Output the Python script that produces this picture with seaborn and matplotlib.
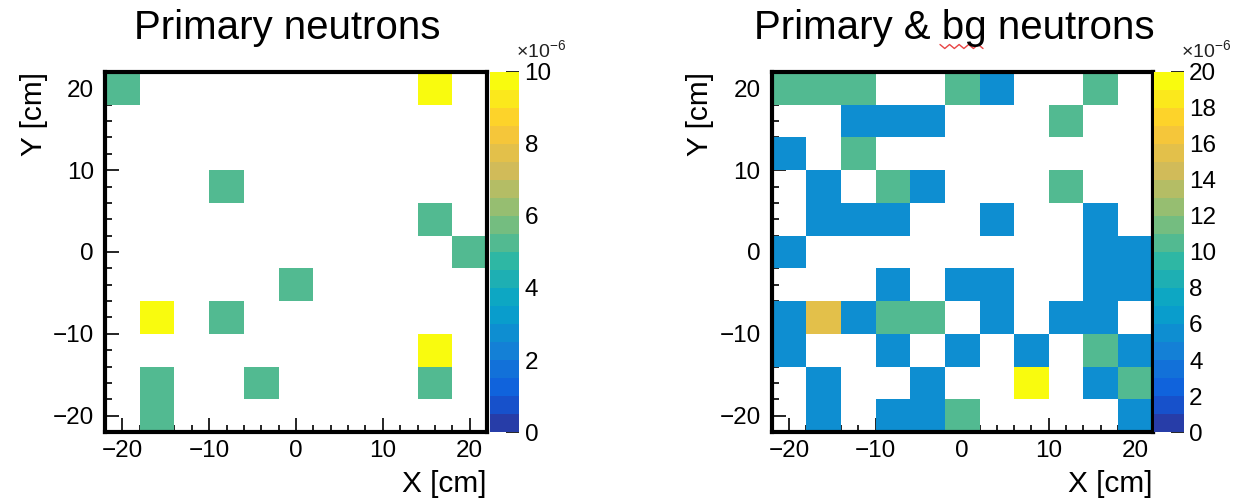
import numpy as np
import pandas as pd
import seaborn as sns
import matplotlib.pyplot as plt
from matplotlib.colors import LinearSegmentedColormap, ListedColormap
from matplotlib.ticker import MultipleLocator
from matplotlib.lines import Line2D

# 11x11 bins, 4 cm wide, in X and Y
bin_edges = [-22, -18, -14, -10, -6, -2, 2, 6, 10, 14, 18, 22]

# bin contents in units of 1e-6, rows go from top (Y=+20) to bottom (Y=-20)
primary = [
    [5, 0, 0, 0, 0, 0, 0, 0, 0, 10, 0],
    [0, 0, 0, 0, 0, 0, 0, 0, 0, 0, 0],
    [0, 0, 0, 0, 0, 0, 0, 0, 0, 0, 0],
    [0, 0, 0, 5, 0, 0, 0, 0, 0, 0, 0],
    [0, 0, 0, 0, 0, 0, 0, 0, 0, 5, 0],
    [0, 0, 0, 0, 0, 0, 0, 0, 0, 0, 5],
    [0, 0, 0, 0, 0, 5, 0, 0, 0, 0, 0],
    [0, 10, 0, 5, 0, 0, 0, 0, 0, 0, 0],
    [0, 0, 0, 0, 0, 0, 0, 0, 0, 10, 0],
    [0, 5, 0, 0, 5, 0, 0, 0, 0, 5, 0],
    [0, 5, 0, 0, 0, 0, 0, 0, 0, 0, 0],
]

primary_bg = [
    [10, 10, 10, 0, 0, 10, 5, 0, 0, 10, 0],
    [0, 0, 5, 5, 5, 0, 0, 0, 10, 0, 0],
    [5, 0, 10, 0, 0, 0, 0, 0, 0, 0, 0],
    [0, 5, 0, 10, 5, 0, 0, 0, 10, 0, 0],
    [0, 5, 5, 5, 0, 0, 5, 0, 0, 5, 0],
    [5, 0, 0, 0, 0, 0, 0, 0, 0, 5, 5],
    [0, 0, 0, 5, 0, 5, 5, 0, 0, 5, 5],
    [5, 15, 5, 10, 10, 0, 5, 0, 5, 5, 0],
    [5, 0, 0, 5, 0, 5, 0, 5, 0, 10, 5],
    [0, 5, 0, 0, 5, 0, 0, 20, 0, 5, 10],
    [0, 5, 0, 5, 5, 10, 0, 0, 0, 0, 5],
]

titles = ["Primary neutrons", "Primary & bg neutrons"]
z_max = [10, 20]
z_ticks = [[0, 2, 4, 6, 8, 10], [0, 2, 4, 6, 8, 10, 12, 14, 16, 18, 20]]

# ROOT kBird palette, 255 colours, cut into 20 contour levels
bird_stops = [0.0, 0.125, 0.25, 0.375, 0.5, 0.625, 0.75, 0.875, 1.0]
bird_r = [0.2082, 0.0592, 0.0780, 0.0232, 0.1802, 0.5301, 0.8186, 0.9956, 0.9764]
bird_g = [0.1664, 0.3599, 0.5041, 0.6419, 0.7178, 0.7492, 0.7328, 0.7862, 0.9832]
bird_b = [0.5293, 0.8684, 0.8385, 0.7914, 0.6425, 0.4662, 0.3499, 0.1968, 0.0539]
bird_full = LinearSegmentedColormap.from_list(
    "bird", list(zip(bird_stops, zip(bird_r, bird_g, bird_b))), N=255)
n_levels = 20
bird = ListedColormap([bird_full(int((k + 0.99) * 255 / n_levels) / 254.0)
                       for k in range(n_levels)])


def to_table(grid):
    centers = (np.array(bin_edges[:-1]) + np.array(bin_edges[1:])) / 2
    y_centers = centers[::-1]
    rows = []
    for r, line in enumerate(grid):
        for c, val in enumerate(line):
            if val > 0:
                rows.append({"x": centers[c], "y": y_centers[r], "w": val})
    return pd.DataFrame(rows)


sns.set_style("white")
plt.rcParams["font.family"] = ["Liberation Sans", "DejaVu Sans"]
plt.rcParams["mathtext.default"] = "regular"
plt.rcParams["text.color"] = "black"
plt.rcParams["xtick.color"] = "black"
plt.rcParams["ytick.color"] = "black"
plt.rcParams["xtick.labelcolor"] = "black"
plt.rcParams["ytick.labelcolor"] = "black"

W, H = 1240, 498
fig = plt.figure(figsize=(W / 100, H / 100), dpi=100)


def box(x0, x1, y0, y1):
    return [x0 / W, 1 - y1 / H, (x1 - x0) / W, (y1 - y0) / H]


# pixel layout: axes left/right, colorbar left/right, title centre
layout = [(105, 487, 489.5, 519, 287), (771.7, 1152.7, 1154, 1183.5, 954)]
top, bottom = 72, 432

for grid, title, zmax, ticks, (ax0, ax1, cx0, cx1, tx) in zip(
        [primary, primary_bg], titles, z_max, z_ticks, layout):
    ax = fig.add_axes(box(ax0, ax1, top, bottom))
    cax = fig.add_axes(box(cx0, cx1, top, bottom))
    df = to_table(grid)
    sns.histplot(data=df, x="x", y="y", weights="w", bins=bin_edges,
                 cmap=bird, vmin=0, vmax=zmax, cbar=True, cbar_ax=cax, ax=ax)

    ax.set_xlim(-22, 22)
    ax.set_ylim(-22, 22)
    ax.set_xlabel("")
    ax.set_ylabel("")
    for axis in (ax.xaxis, ax.yaxis):
        axis.set_major_locator(MultipleLocator(10))
        axis.set_minor_locator(MultipleLocator(2))
    ax.tick_params(which="both", direction="in", top=False, right=False,
                   bottom=True, left=True, width=1.2, color="black")
    ax.tick_params(which="major", length=10, labelsize=17.5)
    ax.tick_params(which="minor", length=5)
    ax.tick_params(axis="x", pad=6)
    ax.tick_params(axis="y", pad=8)
    for sp in ax.spines.values():
        sp.set_visible(True)
        sp.set_color("black")
        sp.set_linewidth(3)

    mesh = ax.collections[0]
    mesh.colorbar.outline.set_visible(False)
    cax.set_yticks(ticks)
    cax.tick_params(direction="in", length=9.5, width=1.2, labelsize=17.5,
                    pad=4, right=True, left=False, color="black")

    fig.text(tx / W, 1 - 39 / H, title, ha="center", va="baseline", fontsize=29)
    fig.text((ax0 - 71.5) / W, 1 - top / H, "Y [cm]", rotation=90,
             ha="center", va="top", fontsize=21.5)
    fig.text(ax1 / W, 1 - 492 / H, "X [cm]", ha="right", va="baseline",
             fontsize=21.5)
    fig.text((cx0 + 27) / W, 1 - 57 / H, r"$\times10^{-6}$", ha="left",
             va="baseline", fontsize=14, color="#222222")

# spell-check squiggle under "bg" in the right title
sq_x = np.linspace(940, 983, 10)
sq_y = np.where(np.arange(10) % 2 == 0, 44.5, 48.5)
fig.add_artist(Line2D(sq_x / W, 1 - sq_y / H, color="#e84545", lw=1.0))

fig.savefig("out.png", dpi=100)
